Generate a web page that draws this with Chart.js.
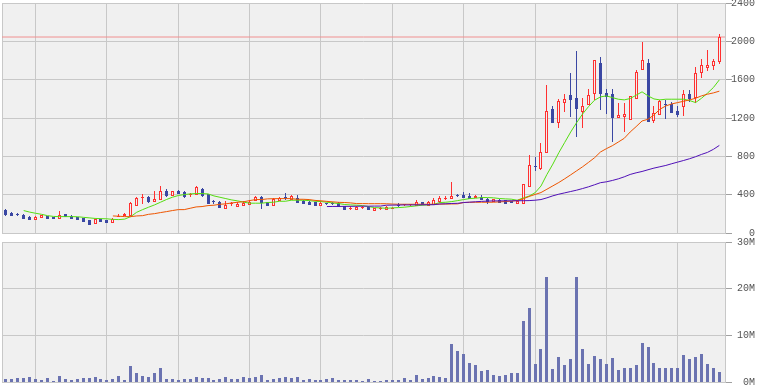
<!DOCTYPE html>
<html>
<head>
<meta charset="utf-8">
<script src="https://cdn.jsdelivr.net/npm/chart.js@4.4.1/dist/chart.umd.min.js"></script>
<style>
  html, body { margin: 0; padding: 0; background: #ffffff; }
  #wrap { position: relative; width: 760px; height: 387px; }
  canvas { position: absolute; left: 0; }
  #price { top: 0; }
  #volume { top: 237px; }
</style>
</head>
<body>
<div id="wrap">
  <canvas id="price"></canvas>
  <canvas id="volume"></canvas>
</div>
<script>
// weekly candles, oldest first
var open = [237,209,199,192,164,136,161,178,167,147,195,181,167,154,136,91,147,136,108,170,
  175,178,286,363,373,321,345,440,391,440,429,401,398,454,408,330,321,255,304,276,
  283,293,338,373,321,283,331,372,349,366,338,328,325,286,311,312,314,286,253,241,
  260,276,227,250,241,255,292,293,293,286,328,286,297,328,356,356,400,398,384,370,
  380,360,328,349,342,332,307,304,485,700,670,831,1291,1152,1354,1441,1410,1260,1340,1448,
  1769,1459,1448,1204,1214,1176,1403,1696,1769,1173,1232,1350,1347,1274,1312,1452,1410,1665,1717,1738,
  1783];
var high = [248,220,213,202,174,178,188,181,171,227,202,192,171,157,139,143,150,140,161,200,
  205,325,380,408,384,436,489,457,443,447,436,419,489,468,412,342,335,335,328,325,
  331,342,391,391,321,363,380,415,394,394,345,335,328,328,314,328,321,286,279,279,
  279,279,262,269,283,276,311,307,304,349,328,338,363,384,384,530,405,426,415,401,
  394,370,360,356,346,335,349,510,810,792,936,1546,1326,1399,1448,1672,1902,1406,1500,1804,
  1836,1500,1504,1361,1354,1427,1696,1989,1818,1326,1389,1389,1365,1326,1487,1487,1727,1814,1912,1818,
  2080];
var low = [181,178,178,143,136,133,161,147,143,147,167,147,136,115,84,91,115,105,108,165,
  175,178,283,304,311,321,345,380,391,405,370,377,398,380,304,304,258,255,286,276,
  283,293,338,251,283,283,331,342,349,314,304,293,283,286,293,293,272,241,241,241,
  251,241,227,241,241,248,269,286,286,286,297,286,297,318,342,356,377,363,359,363,
  345,307,325,318,304,314,300,304,485,645,656,831,1152,1099,1267,1215,1005,1092,1340,1389,
  1284,1240,953,1204,1057,1176,1396,1696,1162,1145,1228,1187,1249,1207,1222,1371,1361,1616,1689,1703,
  1762];
var close = [188,178,192,147,136,171,185,147,150,188,167,147,136,115,84,143,115,105,147,180,
  196,314,370,372,321,359,440,387,436,408,380,410,475,391,304,320,258,290,313,307,
  314,325,373,314,283,352,366,363,384,314,304,293,283,318,300,303,272,241,263,272,
  270,241,258,260,276,266,284,303,302,328,297,321,342,370,366,391,390,363,359,384,
  345,325,353,318,307,314,335,510,705,690,841,1274,1152,1378,1396,1389,1295,1323,1438,1804,
  1448,1424,1204,1229,1242,1427,1682,1807,1162,1256,1375,1340,1249,1228,1452,1396,1672,1755,1755,1797,
  2045];

// moving averages (short / medium / long)
var maShort = [null,null,null,234,218,206,195,181,173,171,171,171,170,164,158,152,150,148,142,140,
  145,171,216,244,269,293,321,349,373,391,401,408,412,412,408,387,373,359,345,335,
  322,311,311,311,318,321,331,331,342,342,342,338,331,328,321,314,307,297,293,290,
  286,276,265,262,258,262,265,269,276,283,290,293,300,318,321,328,338,349,359,363,
  370,370,367,360,356,353,342,365,385,420,490,611,719,838,946,1054,1152,1242,1319,1385,
  1420,1431,1413,1396,1389,1403,1438,1473,1431,1399,1389,1396,1396,1396,1396,1382,1361,1406,1459,1518,
  1598];
var maMid = [null,null,null,null,null,null,null,null,null,null,null,null,null,null,null,null,null,null,178,175,
  171,171,178,181,195,202,213,223,234,244,244,258,272,276,286,290,300,304,314,321,
  326,338,349,349,356,358,359,359,359,352,352,349,340,336,330,325,320,318,314,307,
  307,306,306,306,305,302,300,300,300,300,300,300,300,301,302,303,304,318,320,321,
  321,321,321,325,328,332,339,356,381,402,422,457,492,527,566,607,649,691,737,785,
  845,880,911,949,988,1054,1110,1169,1187,1232,1291,1326,1347,1361,1375,1389,1406,1431,1448,1462,
  1480];
var maLong = [null,null,null,null,null,null,null,null,null,null,null,null,null,null,null,null,null,null,null,null,
  null,null,null,null,null,null,null,null,null,null,null,null,null,null,null,null,null,null,null,null,
  null,null,null,null,null,null,null,null,null,null,null,null,null,null,276,277,277,278,278,279,
  280,280,281,281,290,291,292,293,293,294,294,295,295,303,305,308,310,318,322,326,
  330,333,335,335,336,336,337,337,338,342,349,367,388,405,419,433,447,464,482,503,
  525,534,548,565,586,611,628,642,660,677,691,705,723,740,757,775,796,820,841,873,
  914];

// volume, millions of shares
var volume = [0.57,0.57,0.8,0.8,1.0,0.57,0.36,0.8,0.2,1.2,0.57,0.36,0.57,0.8,0.8,1.0,0.57,0.36,0.57,1.2,
  0.36,3.4,1.9,1.2,1.0,1.9,2.9,0.57,0.57,0.36,0.57,0.57,1.0,0.8,0.8,0.36,0.57,1.0,0.57,0.57,
  1.0,0.8,1.0,1.6,0.36,0.57,0.8,1.0,0.8,1.0,0.36,0.57,0.36,0.36,0.57,0.8,0.36,0.36,0.36,0.36,
  0.14,0.57,0.14,0.2,0.36,0.36,0.36,0.8,0.36,1.6,0.57,0.8,1.2,1.0,0.8,8.1,6.6,6.1,4.0,3.6,
  2.3,2.5,1.6,1.2,1.4,1.9,1.9,13.0,15.8,3.8,7.0,22.6,2.7,5.3,3.6,4.9,22.4,7.0,3.8,5.5,
  4.9,3.8,5.1,2.5,2.9,3.1,3.6,8.3,7.6,4.0,3.1,2.9,2.9,3.1,5.7,4.9,5.3,5.9,3.8,2.9,
  2.1];

var priceTicks = [0, 400, 800, 1200, 1600, 2000, 2400];
var volumeTicks = [0, 10, 20, 30];
var gridIndexes = [5, 17, 29, 41, 53, 65, 77, 89, 101, 113];

var RED = "#ff3030";
var BLUE = "#3a47a3";
var PLOT_BG = "#f0f0f0";
var GRID = "#c8c8c8";
var X_MIN = -0.65;
var X_MAX = 120.95;

var lastClose = close[close.length - 1];

function isUp(i) {
  return close[i] >= open[i];
}

function points(values) {
  return values.map(function (v, i) {
    return { x: i, y: v };
  });
}

var plotBackground = {
  id: "plotBackground",
  beforeDraw: function (chart) {
    var a = chart.chartArea;
    var ctx = chart.ctx;
    ctx.save();
    ctx.fillStyle = PLOT_BG;
    ctx.fillRect(a.left, a.top, a.right - a.left, a.bottom - a.top);
    ctx.restore();
  },
};

// snap bar elements to whole pixels so the candles stay sharp
var crispBars = {
  id: "crispBars",
  beforeDatasetsDraw: function (chart) {
    chart.data.datasets.forEach(function (ds, di) {
      var meta = chart.getDatasetMeta(di);
      if (meta.type !== "bar") return;
      meta.data.forEach(function (el) {
        var odd = Math.round(el.width) % 2 === 1;
        el.x = odd ? Math.floor(el.x) + 0.5 : Math.round(el.x);
        el.y = Math.round(el.y);
        el.base = Math.round(el.base);
        if (Math.abs(el.base - el.y) < 1) el.y = el.base - 1;
      });
    });
  },
};

function xScale() {
  return {
    type: "linear",
    min: X_MIN,
    max: X_MAX,
    offset: false,
    grid: { offset: false, color: GRID, drawTicks: false },
    border: { display: true, color: GRID },
    ticks: { display: false },
    afterBuildTicks: function (s) {
      s.ticks = [X_MIN].concat(gridIndexes, [X_MAX]).map(function (v) {
        return { value: v };
      });
    },
    afterFit: function (s) {
      s.height = 0;
      s.paddingLeft = 0;
      s.paddingRight = 0;
    },
  };
}

function yScale(max, tickValues, fmt) {
  return {
    position: "right",
    min: 0,
    max: max,
    grid: { color: GRID, tickLength: 7, tickColor: "#a0a0a0" },
    border: { color: GRID },
    ticks: {
      font: { family: "Liberation Mono", size: 10 },
      color: "#555555",
      padding: 1,
      crossAlign: "far",
      callback: fmt,
    },
    afterBuildTicks: function (s) {
      s.ticks = tickValues.map(function (v) {
        return { value: v };
      });
    },
    afterFit: function (s) {
      s.width = 30;
      s.paddingTop = 0;
      s.paddingBottom = 0;
    },
  };
}

function lineSet(values, color) {
  return {
    type: "line",
    data: points(values),
    borderColor: color,
    borderWidth: 1,
    pointRadius: 0,
    tension: 0,
    order: 0,
  };
}

var priceCanvas = document.getElementById("price");
priceCanvas.width = 760;
priceCanvas.height = 236;

new Chart(priceCanvas, {
  type: "bar",
  data: {
    datasets: [
      {
        type: "line",
        data: [
          { x: X_MIN, y: lastClose },
          { x: X_MAX, y: lastClose },
        ],
        borderColor: "#f09090",
        borderWidth: 1,
        pointRadius: 0,
        order: 4,
      },
      {
        data: close.map(function (c, i) {
          return { x: i, y: [low[i], high[i]] };
        }),
        backgroundColor: function (ctx) {
          return isUp(ctx.dataIndex) ? RED : BLUE;
        },
        grouped: false,
        maxBarThickness: 1,
        inflateAmount: 0,
        order: 3,
      },
      {
        data: close.map(function (c, i) {
          return { x: i, y: [open[i], c] };
        }),
        backgroundColor: function (ctx) {
          return isUp(ctx.dataIndex) ? PLOT_BG : BLUE;
        },
        borderColor: function (ctx) {
          return isUp(ctx.dataIndex) ? RED : BLUE;
        },
        borderWidth: 1,
        borderSkipped: false,
        inflateAmount: 0,
        minBarLength: 1,
        grouped: false,
        maxBarThickness: 3,
        order: 2,
      },
      lineSet(maLong, "#5010b8"),
      lineSet(maMid, "#ee5500"),
      lineSet(maShort, "#55dd11"),
    ],
  },
  options: {
    responsive: false,
    animation: false,
    layout: { padding: { left: 2, top: 3, right: 5, bottom: 3 } },
    plugins: { legend: { display: false }, tooltip: { enabled: false } },
    scales: {
      x: xScale(),
      y: yScale(2400, priceTicks, function (v) {
        return String(v);
      }),
    },
  },
  plugins: [plotBackground, crispBars],
});

var volumeCanvas = document.getElementById("volume");
volumeCanvas.width = 760;
volumeCanvas.height = 150;

new Chart(volumeCanvas, {
  type: "bar",
  data: {
    datasets: [
      {
        data: points(volume),
        backgroundColor: "#6b73b1",
        grouped: false,
        maxBarThickness: 3,
        inflateAmount: 0,
      },
    ],
  },
  options: {
    responsive: false,
    animation: false,
    layout: { padding: { left: 2, top: 5, right: 5, bottom: 5 } },
    plugins: { legend: { display: false }, tooltip: { enabled: false } },
    scales: {
      x: xScale(),
      y: yScale(30, volumeTicks, function (v) {
        return v + "M";
      }),
    },
  },
  plugins: [plotBackground, crispBars],
});
</script>
</body>
</html>
